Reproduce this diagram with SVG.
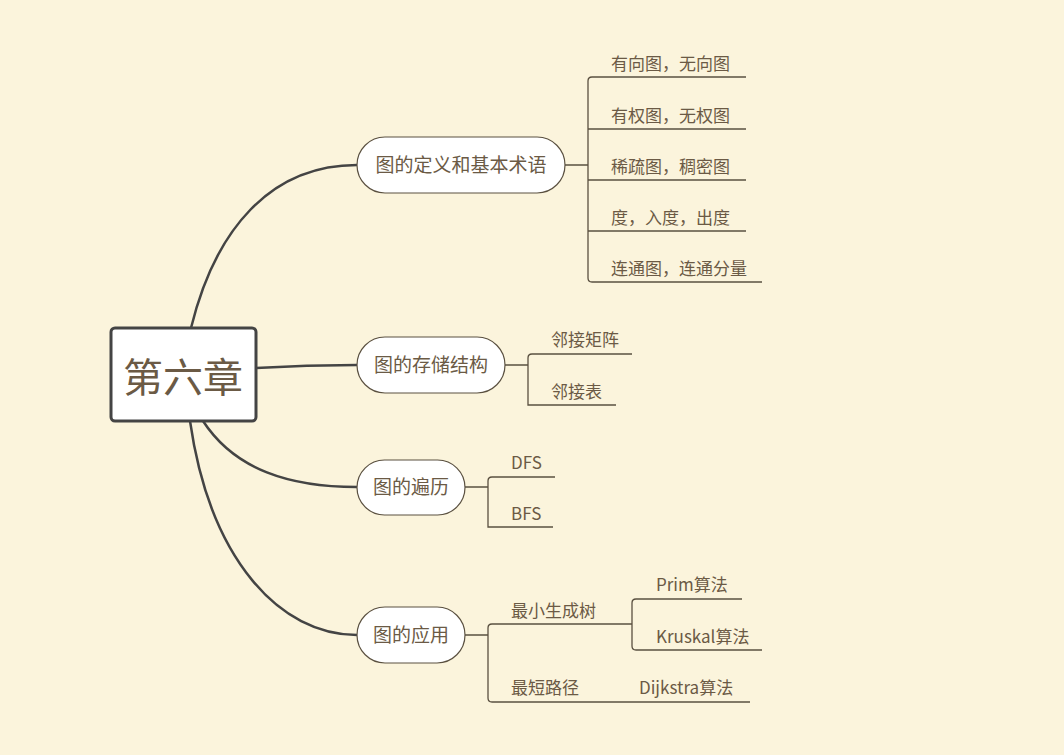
<svg xmlns="http://www.w3.org/2000/svg" width="1064" height="755" viewBox="0 0 1064 755">
<style>
text{font-family:"Noto Sans CJK SC","Liberation Sans",sans-serif;fill:#6b5a45}
.t{font-size:17px}
.l1{font-size:19px}
.c{fill:none;stroke:#444;stroke-width:2.5}
.b{fill:none;stroke:#5a5040;stroke-width:1.3}
.p{fill:#fff;stroke:#5a5040;stroke-width:1.2}
</style>
<rect width="1064" height="755" fill="#fbf4dc"/>
<g id="connectors">
<path class="c" d="M191,328 C215,230 270,165 357,165"/>
<path class="c" d="M256,368 C290,366 320,365 357,365"/>
<path class="c" d="M203,421 C235,470 290,487 357,487"/>
<path class="c" d="M190,421 C210,560 280,635 357,635"/>
<path class="b" d="M565,165H588M746,77H592Q588,77 588,81V278Q588,282 592,282H762M588,129H746M588,180H746M588,231H746"/>
<path class="b" d="M505,365H528M632,354H532Q528,354 528,358V405H616"/>
<path class="b" d="M465,487H488M555,477H492Q488,477 488,481V527H553"/>
<path class="b" d="M465,635H488M632,624H492Q488,624 488,628V698Q488,702 492,702H750M742,599H636Q632,599 632,603V646Q632,650 636,650H762M632,603V624"/>
</g>
<g id="root"><rect x="111" y="328" width="145" height="93" rx="4" fill="#fff" stroke="#444" stroke-width="3"/><text x="183" y="392" font-size="40" text-anchor="middle">第六章</text></g>
<g id="n1"><rect class="p" x="357" y="137" width="208" height="56" rx="28"/><text class="l1" x="461" y="172" text-anchor="middle">图的定义和基本术语</text></g>
<g id="n2"><rect class="p" x="357" y="337" width="148" height="56" rx="28"/><text class="l1" x="431" y="372" text-anchor="middle">图的存储结构</text></g>
<g id="n3"><rect class="p" x="357" y="460" width="108" height="55" rx="27.5"/><text class="l1" x="411" y="494" text-anchor="middle">图的遍历</text></g>
<g id="n4"><rect class="p" x="357" y="607" width="108" height="56" rx="28"/><text class="l1" x="411" y="642" text-anchor="middle">图的应用</text></g>
<g id="leaves">
<text class="t" x="611" y="70">有向图，无向图</text>
<text class="t" x="611" y="122">有权图，无权图</text>
<text class="t" x="611" y="173">稀疏图，稠密图</text>
<text class="t" x="611" y="224">度，入度，出度</text>
<text class="t" x="611" y="275">连通图，连通分量</text>
<text class="t" x="551" y="346">邻接矩阵</text>
<text class="t" x="551" y="398">邻接表</text>
<text class="t" x="511" y="469">DFS</text>
<text class="t" x="511" y="520">BFS</text>
<text class="t" x="511" y="617">最小生成树</text>
<text class="t" x="656" y="591">Prim算法</text>
<text class="t" x="656" y="643">Kruskal算法</text>
<text class="t" x="511" y="694">最短路径</text>
<text class="t" x="639" y="694">Dijkstra算法</text>
</g>
</svg>
